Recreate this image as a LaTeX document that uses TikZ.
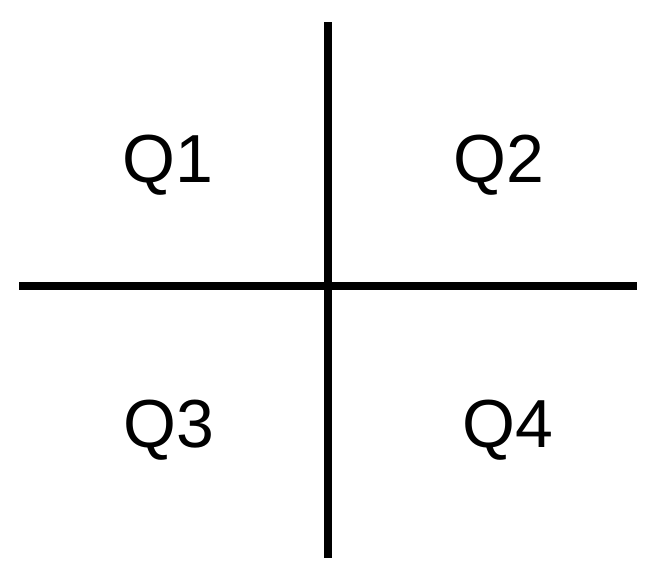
\documentclass[tikz,border=0pt]{standalone}
\usepackage{fontspec}
\setmainfont{Liberation Sans}
\begin{document}
\begin{tikzpicture}[x=1pt,y=-1pt,
  axisline/.style={line width=8pt, black},
  qlabel/.style={anchor=base west, inner sep=0pt, font=\fontsize{68}{80}\selectfont}]
\useasboundingbox[fill=white] (0,0) rectangle (668,579);
\coordinate (vtop) at (328,22);
\coordinate (vbot) at (328,558);
\coordinate (hleft) at (19,286);
\coordinate (hright) at (637,286);
\draw[axisline] (vtop) -- (vbot);
\draw[axisline] (hleft) -- (hright);
\node[qlabel] (q1) at (122,182) {Q1};
\node[qlabel] (q2) at (453,182) {Q2};
\node[qlabel] (q3) at (123,447) {Q3};
\node[qlabel] (q4) at (462,447) {Q4};
\end{tikzpicture}
\end{document}
